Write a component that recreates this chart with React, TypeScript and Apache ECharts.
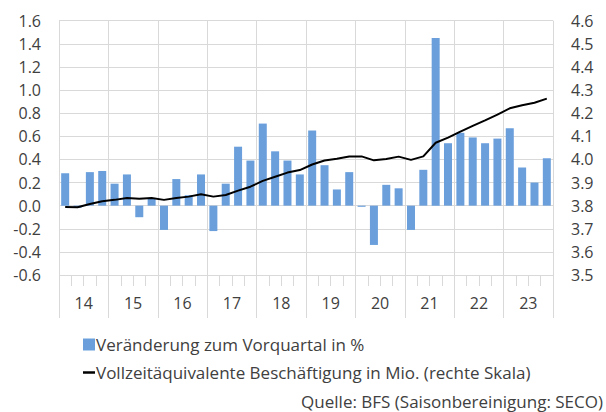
import React, { useEffect, useRef } from "react";
import * as echarts from "echarts";

const quarters: string[] = [];
const yearLabels = ["14", "15", "16", "17", "18", "19", "20", "21", "22", "23"];
for (const y of yearLabels) for (let q = 1; q <= 4; q++) quarters.push(`${y}Q${q}`);

const changePct = [
  0.28, -0.02, 0.29, 0.30,
  0.19, 0.27, -0.10, 0.06,
  -0.21, 0.23, 0.09, 0.27,
  -0.22, 0.19, 0.51, 0.39,
  0.71, 0.47, 0.39, 0.27,
  0.65, 0.35, 0.14, 0.29,
  -0.01, -0.34, 0.18, 0.15,
  -0.21, 0.31, 1.45, 0.54,
  0.63, 0.59, 0.54, 0.58,
  0.67, 0.33, 0.20, 0.41,
];

const fteMio = [
  3.794, 3.793, 3.807, 3.819,
  3.825, 3.833, 3.830, 3.833,
  3.825, 3.833, 3.839, 3.849,
  3.839, 3.846, 3.865, 3.882,
  3.907, 3.925, 3.943, 3.954,
  3.978, 3.995, 4.003, 4.013,
  4.013, 3.996, 4.002, 4.012,
  3.998, 4.013, 4.072, 4.094,
  4.120, 4.145, 4.169, 4.194,
  4.221, 4.234, 4.245, 4.263,
];

const barName = "Veränderung zum Vorquartal in %";
const lineName = "Vollzeitäquivalente Beschäftigung in Mio. (rechte Skala)";
const sourceText = "Quelle: BFS (Saisonbereinigung: SECO)";

const FONT = "Open Sans";
const TXT = "#404040";
const GRID = "#d9d9d9";

export default function App() {
  const ref = useRef<HTMLDivElement>(null);
  useEffect(() => {
    if (!ref.current) return;
    const chart = echarts.init(ref.current, undefined, { renderer: "svg" });
    chart.setOption({
      animation: false,
      textStyle: { fontFamily: FONT, color: TXT },
      grid: { left: 59, right: 53, top: 20.7, bottom: 137, containLabel: false },
      legend: {
        orient: "vertical",
        left: 78,
        top: 331,
        itemWidth: 12,
        itemHeight: 12,
        itemGap: 11,
        symbolKeepAspect: true,
        textStyle: { fontFamily: FONT, fontSize: 17, color: TXT, padding: [0, 0, 0, -4] },
        data: [
          { name: barName, icon: "rect" },
          { name: lineName, icon: "path://M0,0L12,0L12,2.5L0,2.5Z" },
        ],
      },
      graphic: [
        {
          type: "text",
          right: 3,
          top: 393,
          style: { text: sourceText, font: `17px ${FONT}`, fill: TXT, lineHeight: 17 },
        },
      ],
      xAxis: [
        {
          type: "category",
          data: quarters,
          position: "bottom",
          axisLine: { show: false, onZero: false },
          axisTick: { show: true, length: 11, interval: 0, lineStyle: { color: GRID } },
          axisLabel: { show: false },
          splitLine: { show: false },
        },
        {
          type: "category",
          data: yearLabels,
          position: "bottom",
          axisLine: { show: false, onZero: false },
          axisTick: { show: true, length: 43, interval: 0, lineStyle: { color: GRID } },
          axisLabel: { show: true, interval: 0, margin: 20, fontSize: 16, color: TXT, fontFamily: FONT },
          splitLine: { show: true, interval: 0, lineStyle: { color: GRID } },
        },
      ],
      yAxis: [
        {
          type: "value",
          min: -0.6,
          max: 1.6,
          interval: 0.2,
          axisLine: { show: false },
          axisTick: { show: false },
          axisLabel: {
            margin: 18,
            fontSize: 16,
            color: TXT,
            fontFamily: FONT,
            formatter: (v: number) => v.toFixed(1),
          },
          splitLine: { show: true, lineStyle: { color: GRID } },
        },
        {
          type: "value",
          min: 3.5,
          max: 4.6,
          interval: 0.1,
          position: "right",
          axisLine: { show: false },
          axisTick: { show: false },
          axisLabel: {
            margin: 18,
            fontSize: 16,
            color: TXT,
            fontFamily: FONT,
            formatter: (v: number) => v.toFixed(1),
          },
          splitLine: { show: false },
        },
      ],
      series: [
        {
          name: barName,
          type: "bar",
          xAxisIndex: 0,
          yAxisIndex: 0,
          data: changePct,
          barWidth: 8,
          itemStyle: { color: "#6a9fdc" },
        },
        {
          name: lineName,
          type: "line",
          xAxisIndex: 0,
          yAxisIndex: 1,
          data: fteMio,
          symbol: "none",
          showSymbol: false,
          lineStyle: { color: "#000000", width: 2 },
          itemStyle: { color: "#000000" },
        },
      ],
    });
    return () => chart.dispose();
  }, []);
  return <div ref={ref} style={{ width: 606, height: 412, position: "absolute", left: 0, top: 0 }} />;
}
